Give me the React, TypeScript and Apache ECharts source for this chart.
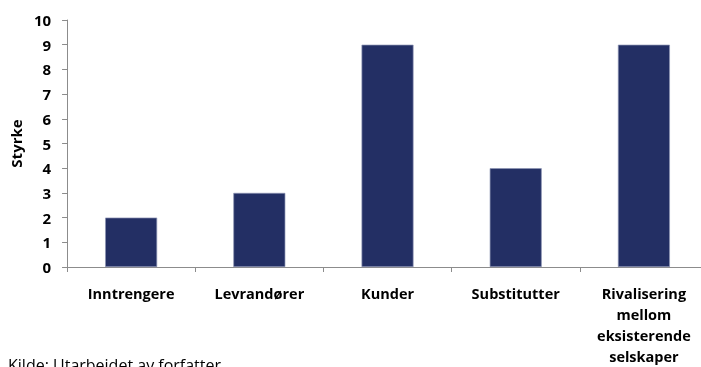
import React, { useEffect, useRef } from "react";
import * as echarts from "echarts";

const categories = ["Inntrengere", "Levrandører", "Kunder", "Substitutter", "Rivalisering\nmellom\neksisterende\nselskaper"];
const values = [2, 3, 9, 4, 9];
const yAxisName = "Styrke";
const sourceNote = "Kilde: Utarbeidet av forfatter";

export default function App() {
  const ref = useRef<HTMLDivElement>(null);
  useEffect(() => {
    document.body.style.margin = "0";
    document.body.style.overflow = "hidden";
    const chart = echarts.init(ref.current!, null, { renderer: "svg" });
    const font = "'Open Sans', sans-serif";
    chart.setOption({
      animation: false,
      grid: { left: 66, right: 2, top: 20, bottom: 98 },
      xAxis: {
        type: "category",
        data: categories,
        axisLine: { lineStyle: { color: "#8c8c8c", width: 1 } },
        axisTick: { show: true, length: 5, lineStyle: { color: "#8c8c8c" } },
        axisLabel: {
          interval: 0,
          margin: 16,
          color: "#000",
          fontFamily: font,
          fontWeight: "bold",
          fontSize: 14.5,
          lineHeight: 21,
        },
      },
      yAxis: {
        type: "value",
        min: 0,
        max: 10,
        interval: 1,
        name: yAxisName,
        nameLocation: "middle",
        nameGap: 39,
        nameTextStyle: { color: "#000", fontFamily: font, fontWeight: "bold", fontSize: 15 },
        axisLine: { show: true, lineStyle: { color: "#8c8c8c", width: 1 } },
        axisTick: { show: true, length: 5, lineStyle: { color: "#8c8c8c" } },
        splitLine: { show: false },
        axisLabel: { margin: 16, color: "#000", fontFamily: font, fontWeight: "bold", fontSize: 15 },
      },
      series: [
        {
          type: "bar",
          data: values,
          barWidth: 52,
          itemStyle: { color: "#232F64", borderColor: "#8d93b3", borderWidth: 0.7 },
        },
      ],
      graphic: [
        {
          type: "text",
          left: 8,
          top: 357,
          style: { text: sourceNote, fill: "#000", font: `16px ${font}` },
        },
      ],
    });
    return () => chart.dispose();
  }, []);
  return (
    <div style={{ position: "fixed", left: 0, top: 0, width: 701, height: 367, overflow: "hidden" }}>
      <div ref={ref} style={{ width: 710, height: 367 }} />
    </div>
  );
}
